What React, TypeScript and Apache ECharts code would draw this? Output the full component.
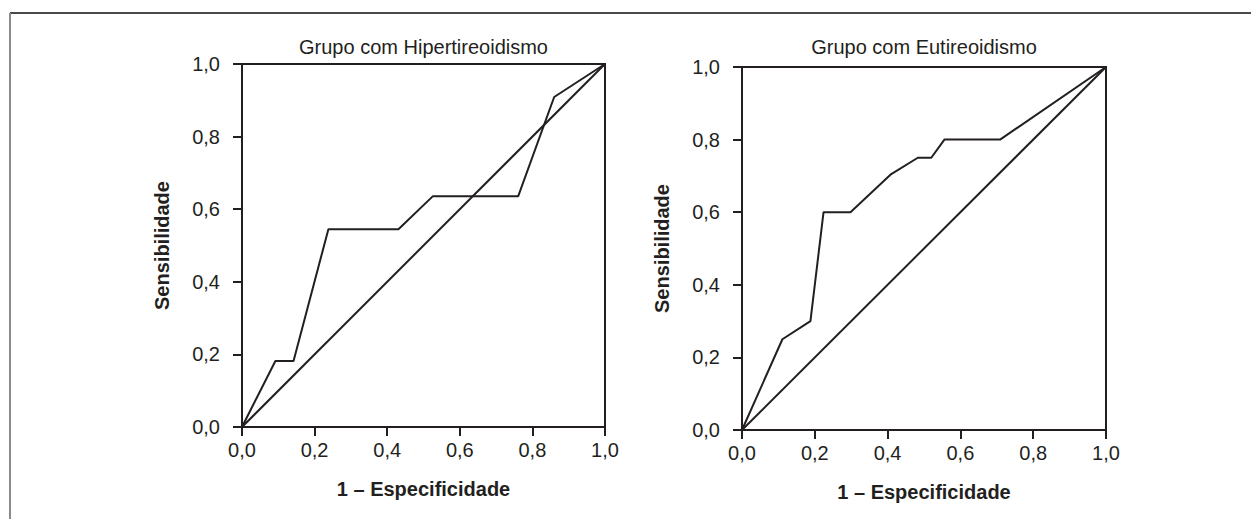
import React, { useEffect, useRef } from "react";
import * as echarts from "echarts";

const titles = ["Grupo com Hipertireoidismo", "Grupo com Eutireoidismo"];
const xAxisName = "1 – Especificidade";
const yAxisName = "Sensibilidade";

const hiperFPR = [0, 0.092, 0.142, 0.238, 0.431, 0.526, 0.761, 0.86, 1];
const hiperTPR = [0, 0.182, 0.182, 0.545, 0.545, 0.636, 0.636, 0.909, 1];
const euFPR = [0, 0.111, 0.188, 0.224, 0.298, 0.41, 0.483, 0.52, 0.556, 0.709, 1];
const euTPR = [0, 0.25, 0.3, 0.6, 0.6, 0.705, 0.75, 0.75, 0.8, 0.8, 1];
const diagX = [0, 1];
const diagY = [0, 1];

const FONT = '"Liberation Sans", Arial, Helvetica, sans-serif';
const INK = "#231f20";

const zip = (a: number[], b: number[]) => a.map((v, i) => [v, b[i]]);
const fmt = (v: number) => v.toFixed(1).replace(".", ",");

export default function App() {
  const ref = useRef<HTMLDivElement>(null);
  useEffect(() => {
    if (!ref.current) return;
    const chart = echarts.init(ref.current, undefined, { renderer: "svg" });
    const grids = [
      { left: 242, top: 64, width: 363, height: 363 },
      { left: 742, top: 67, width: 364, height: 363 },
    ];
    const axisCommon = {
      type: "value",
      min: 0,
      max: 1,
      interval: 0.2,
      axisLine: { show: true, lineStyle: { color: INK, width: 2 } },
      axisTick: { show: true, inside: false, length: 9, lineStyle: { color: INK, width: 2 } },
      splitLine: { show: false },
      nameLocation: "middle",
      nameTextStyle: { fontFamily: FONT, fontSize: 20, fontWeight: "bold", color: INK },
    };
    const option: any = {
      animation: false,
      backgroundColor: "#ffffff",
      title: titles.map((t, i) => ({
        text: t,
        left: grids[i].left + grids[i].width / 2,
        top: 37,
        textAlign: "center",
        padding: 0,
        textStyle: { fontFamily: FONT, fontSize: 20, fontWeight: "normal", color: INK },
      })),
      grid: grids.map((g) => ({
        ...g,
        show: true,
        borderColor: INK,
        borderWidth: 2,
        backgroundColor: "transparent",
      })),
      xAxis: grids.map((_, i) => ({
        ...axisCommon,
        gridIndex: i,
        name: xAxisName,
        nameGap: 52,
        axisLabel: {
          margin: 13,
          fontFamily: FONT,
          fontSize: 20,
          color: INK,
          formatter: (v: number) => fmt(v),
        },
      })),
      yAxis: grids.map((_, i) => ({
        ...axisCommon,
        gridIndex: i,
        name: yAxisName,
        nameGap: 70,
        axisLabel: {
          margin: 22,
          fontFamily: FONT,
          fontSize: 20,
          color: INK,
          formatter: (v: number) => fmt(v),
        },
      })),
      series: [
        { data: zip(hiperFPR, hiperTPR), xAxisIndex: 0, yAxisIndex: 0 },
        { data: zip(diagX, diagY), xAxisIndex: 0, yAxisIndex: 0 },
        { data: zip(euFPR, euTPR), xAxisIndex: 1, yAxisIndex: 1 },
        { data: zip(diagX, diagY), xAxisIndex: 1, yAxisIndex: 1 },
      ].map((s) => ({
        ...s,
        type: "line",
        showSymbol: false,
        silent: true,
        lineStyle: { color: INK, width: 2 },
      })),
      graphic: [
        {
          type: "line",
          shape: { x1: 10, y1: 13, x2: 1251, y2: 13 },
          style: { stroke: "#4a4a4a", lineWidth: 2 },
        },
        {
          type: "line",
          shape: { x1: 10, y1: 13, x2: 10, y2: 519 },
          style: { stroke: "#8a8a8a", lineWidth: 2 },
        },
      ],
    };
    chart.setOption(option);
    return () => chart.dispose();
  }, []);
  return (
    <div
      ref={ref}
      style={{ position: "absolute", left: 0, top: 0, width: 1251, height: 519, background: "#fff" }}
    />
  );
}
